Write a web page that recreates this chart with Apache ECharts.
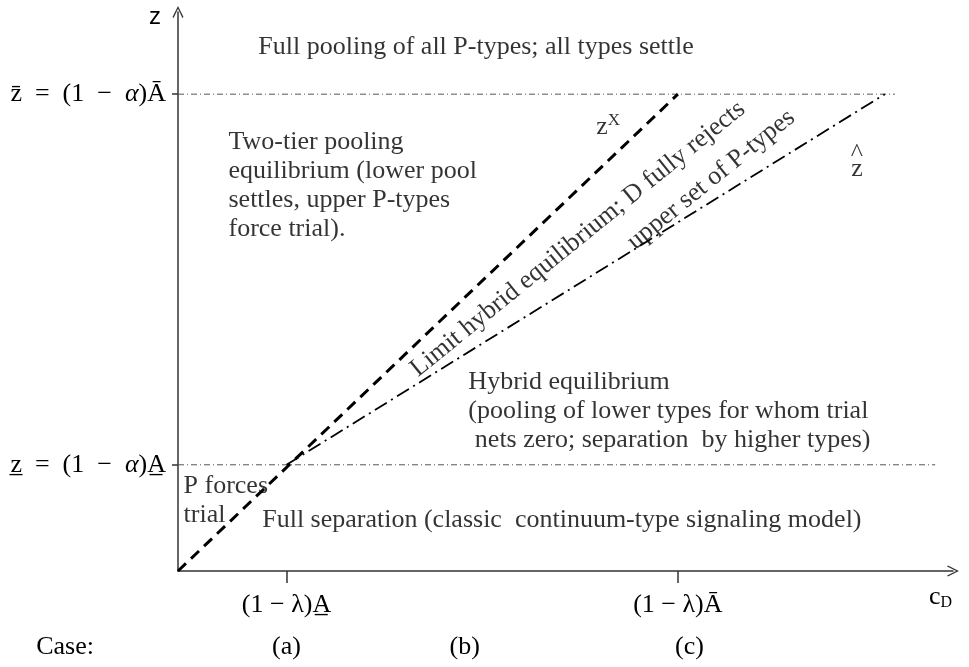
<!DOCTYPE html>
<html>
<head>
<meta charset="utf-8">
<script src="https://cdn.jsdelivr.net/npm/echarts@6/dist/echarts.min.js"></script>
<style>
  html, body { margin: 0; padding: 0; background: #fff; }
  #chart { width: 969px; height: 667px; }
</style>
</head>
<body>
<div id="chart"></div>
<script>
// axis ticks (abstract units, axis runs 0..100)
const cdTicks = [14, 64.5];
const cdTickLabels = ['(1 − λ)A̲', '(1 − λ)Ā'];
const zTicks = [19, 85.3];
const zTickLabels = ['z̲\u2002=\u2002(1\u2002−\u2002α)A̲', 'z̄\u2002=\u2002(1\u2002−\u2002α)Ā'];
const caseTicks = [14, 37, 66];
const caseLabels = ['(a)', '(b)', '(c)'];

// curves
const zxX = [0, 64.5];
const zxY = [0, 85.3];
const zhatX = [14, 91.2];
const zhatY = [19, 85.3];
// horizontal bounds: z upper / z lower
const zUpperX = [0, 92.5];
const zLowerX = [0, 97.7];

const serif = 'Liberation Serif';
const fs = 26;

function pairs(xs, ys) {
  return xs.map((x, i) => [x, ys[i]]);
}

// text placed at a data point through an invisible scatter mark
function note(x, y, text, opts) {
  opts = opts || {};
  return {
    type: 'scatter',
    silent: true,
    symbolSize: 1,
    itemStyle: {color: 'transparent'},
    data: [[x, y]],
    z: 5,
    label: Object.assign({
      show: true,
      position: opts.rotate ? 'inside' : 'right',
      distance: 0,
      formatter: text,
      color: '#000',
      fontFamily: serif,
      fontSize: fs,
      lineHeight: 29,
      align: opts.rotate ? 'center' : 'left',
      verticalAlign: 'middle'
    }, opts)
  };
}

const chart = echarts.init(document.getElementById('chart'));

const arrow = 'path://M5,0 L10,10 L9,10.8 L5,2.5 L1,10.8 L0,10 Z';

chart.setOption({
  animation: false,
  backgroundColor: '#fff',
  grid: {left: 178, right: 16, top: 12, bottom: 96},
  xAxis: [{
    type: 'value', min: 0, max: 100,
    splitLine: {show: false},
    axisLine: {lineStyle: {color: '#333', width: 1.5}, symbol: ['none', arrow], symbolSize: [11, 13]},
    axisTick: {customValues: cdTicks, length: 12, lineStyle: {color: '#333', width: 1.5}},
    axisLabel: {
      customValues: cdTicks, margin: 21,
      formatter: v => cdTickLabels[cdTicks.indexOf(v)],
      color: '#000', fontFamily: serif, fontSize: fs
    }
  }, {
    type: 'value', min: 0, max: 100, position: 'bottom', offset: 76,
    splitLine: {show: false},
    axisLine: {show: false},
    axisTick: {show: false},
    name: 'Case:', nameLocation: 'start', nameGap: 84,
    nameTextStyle: {color: '#000', fontFamily: serif, fontSize: fs, verticalAlign: 'middle'},
    axisLabel: {
      customValues: caseTicks, margin: 0, verticalAlign: 'middle',
      formatter: v => caseLabels[caseTicks.indexOf(v)],
      color: '#000', fontFamily: serif, fontSize: fs
    }
  }],
  yAxis: {
    type: 'value', min: 0, max: 100,
    splitLine: {show: false},
    axisLine: {lineStyle: {color: '#333', width: 1.5}, symbol: ['none', arrow], symbolSize: [11, 13]},
    axisTick: {customValues: zTicks, length: 6, lineStyle: {color: '#333', width: 1.5}},
    axisLabel: {
      customValues: zTicks, margin: 12,
      formatter: v => {
        const s = zTickLabels[zTicks.indexOf(v)];
        const parts = s.split('α');
        return '{t|' + parts[0] + '}{i|α}{t|' + parts[1] + '}';
      },
      rich: {
        t: {color: '#000', fontFamily: serif, fontSize: fs},
        i: {color: '#000', fontFamily: serif, fontSize: fs, fontStyle: 'italic'}
      }
    }
  },
  graphic: [
    {type: 'text', left: 149, top: 5, style: {text: 'z', font: '24px "Liberation Sans"', fill: '#000'}},
    {type: 'text', left: 929, top: 584, style: {
      text: '{c|c}{d|D}',
      rich: {
        c: {font: '26px "Liberation Serif"', fill: '#000'},
        d: {font: '16px "Liberation Serif"', fill: '#000', padding: [12, 0, 0, 0]}
      }
    }}
  ],
  series: [
    {
      type: 'line', name: 'upper', silent: true, symbol: 'none',
      data: pairs(zUpperX, [zTicks[1], zTicks[1]]),
      lineStyle: {color: '#555', width: 1, type: [6, 3, 1, 3]}
    },
    {
      type: 'line', name: 'lower', silent: true, symbol: 'none',
      data: pairs(zLowerX, [zTicks[0], zTicks[0]]),
      lineStyle: {color: '#555', width: 1, type: [6, 3, 1, 3]}
    },
    {
      type: 'line', name: 'zX', silent: true, symbol: 'none',
      data: pairs(zxX, zxY),
      lineStyle: {color: '#000', width: 3, type: [11, 7]}
    },
    {
      type: 'line', name: 'zhat', silent: true, symbol: 'none',
      data: pairs(zhatX, zhatY),
      lineStyle: {color: '#000', width: 1.8, type: [14, 5, 2, 5]}
    },
    note(10.3, 93.7, 'Full pooling of all P-types; all types settle'),
    note(6.45, 68.9, 'Two-tier pooling\nequilibrium (lower pool\nsettles, upper P-types\nforce trial).'),
    note(37.4, 28.6, 'Hybrid equilibrium\n(pooling of lower types for whom trial\n nets zero; separation  by higher types)'),
    note(0.65, 12.5, 'P forces\ntrial'),
    note(10.8, 9.1, 'Full separation (classic  continuum-type signaling model)'),
    note(55.5, 79.4, '{z|z}{s|X}', {
      position: 'inside', align: 'center',
      rich: {z: {fontFamily: serif, fontSize: fs, color: '#000'},
             s: {fontFamily: serif, fontSize: 17, color: '#000', padding: [0, 0, 14, 0]}}
    }),
    note(87.6, 73.2, '^\nz', {position: 'inside', align: 'center', lineHeight: 15}),
    note(51.6, 59.4, 'Limit hybrid equilibrium; D fully rejects', {rotate: 39}),
    note(68.8, 70.0, 'upper set of P-types', {rotate: 39})
  ]
});
</script>
</body>
</html>
